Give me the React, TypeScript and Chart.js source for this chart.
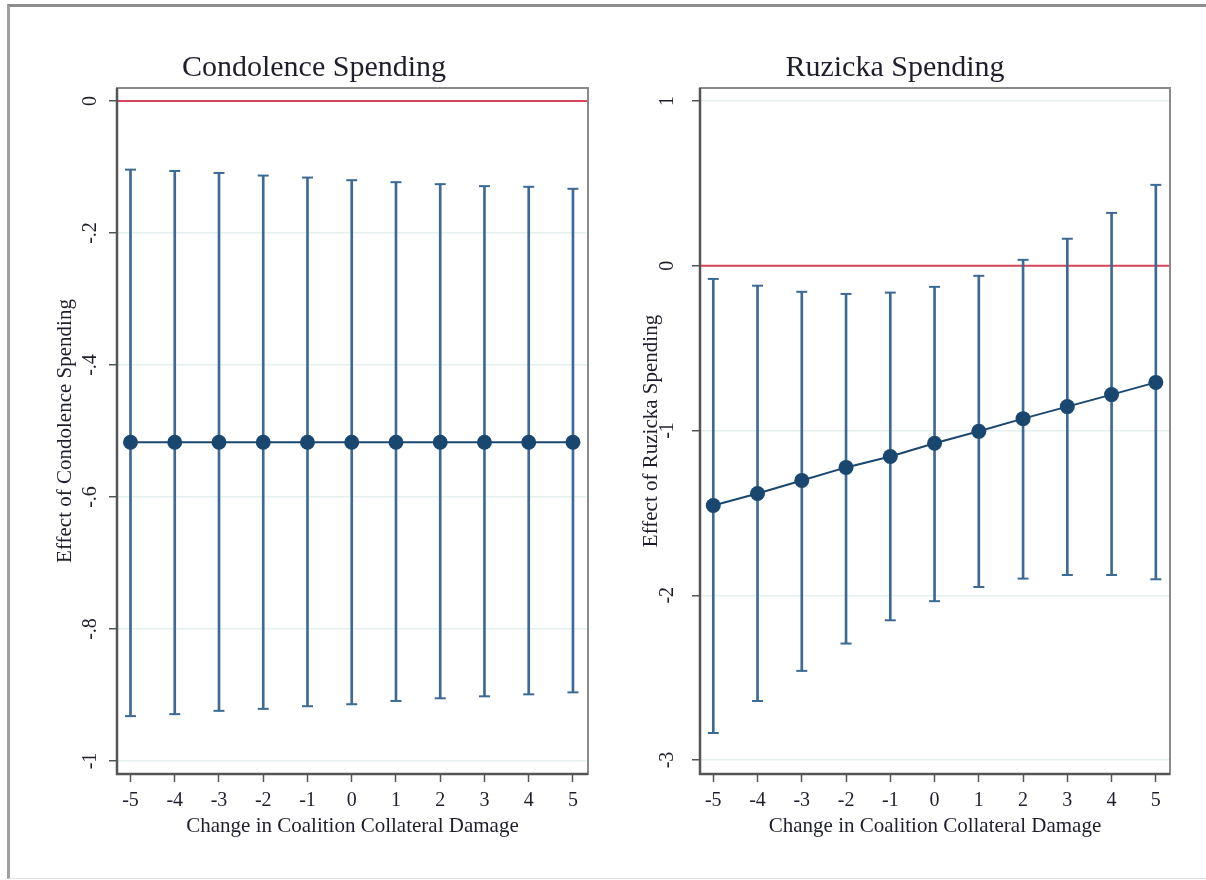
import React, { useEffect, useRef } from "react";
import { Chart, registerables } from "chart.js";

Chart.register(...registerables);

// ---------- data ----------
const xValues = [-5, -4, -3, -2, -1, 0, 1, 2, 3, 4, 5];
const xTicks = [-5, -4, -3, -2, -1, 0, 1, 2, 3, 4, 5];

const condolenceEffect = [-0.517, -0.517, -0.517, -0.517, -0.517, -0.517, -0.517, -0.517, -0.517, -0.517, -0.517];
const condolenceUpper = [-0.104, -0.106, -0.109, -0.113, -0.116, -0.12, -0.123, -0.126, -0.129, -0.13, -0.133];
const condolenceLower = [-0.932, -0.929, -0.924, -0.921, -0.917, -0.914, -0.909, -0.905, -0.902, -0.899, -0.896];
const condolenceYTicks = [0, -0.2, -0.4, -0.6, -0.8, -1];
const condolenceYLabels = ["0", "-.2", "-.4", "-.6", "-.8", "-1"];

const ruzickaEffect = [-1.455, -1.382, -1.303, -1.224, -1.158, -1.077, -1.005, -0.928, -0.855, -0.782, -0.708];
const ruzickaUpper = [-0.08, -0.121, -0.158, -0.171, -0.163, -0.128, -0.061, 0.036, 0.164, 0.321, 0.491];
const ruzickaLower = [-2.836, -2.642, -2.459, -2.293, -2.152, -2.036, -1.95, -1.899, -1.877, -1.877, -1.903];
const ruzickaYTicks = [1, 0, -1, -2, -3];
const ruzickaYLabels = ["1", "0", "-1", "-2", "-3"];

const referenceValue = 0;

// ---------- styles ----------
const SERIF = '"Liberation Serif", "DejaVu Serif", serif';
const NAVY = "#1a476f";
const CI = "#3d6a94";
const RED = "#d8455a";
const GRID = "#e4eff0";
const AXIS = "#555555";
const TEXT = "#1e1e2c";

const yLabelPlugin = {
  id: "yLabels",
  afterDraw(chart: any, _args: any, opts: any) {
    const s = chart.scales.y;
    const ctx = chart.ctx;
    ctx.save();
    ctx.font = `20px ${SERIF}`;
    ctx.fillStyle = TEXT;
    ctx.textAlign = "center";
    ctx.textBaseline = "middle";
    (opts.values as number[]).forEach((v, i) => {
      const y = s.getPixelForValue(v);
      ctx.save();
      ctx.translate(chart.chartArea.left - opts.offset, y);
      ctx.rotate(-Math.PI / 2);
      ctx.fillText(opts.labels[i], 0, 0);
      ctx.restore();
    });
    ctx.restore();
  },
};

const refLinePlugin = {
  id: "refLine",
  beforeDatasetsDraw(chart: any, _args: any, opts: any) {
    const { ctx, chartArea } = chart;
    const y = chart.scales.y.getPixelForValue(opts.value);
    ctx.save();
    ctx.strokeStyle = RED;
    ctx.lineWidth = 2.2;
    ctx.beginPath();
    ctx.moveTo(chartArea.left, y);
    ctx.lineTo(chartArea.right, y);
    ctx.stroke();
    ctx.restore();
  },
};

const boxPlugin = {
  id: "plotBox",
  afterDraw(chart: any) {
    const { ctx, chartArea } = chart;
    const { left, right, top, bottom } = chartArea;
    ctx.save();
    ctx.strokeStyle = "#8a8a8a";
    ctx.lineWidth = 2;
    ctx.strokeRect(left, top, right - left, bottom - top);
    ctx.strokeStyle = AXIS;
    ctx.lineWidth = 2.5;
    ctx.beginPath();
    ctx.moveTo(left, top);
    ctx.lineTo(left, bottom);
    ctx.lineTo(right, bottom);
    ctx.stroke();
    ctx.restore();
  },
};

type PanelProps = {
  title: string;
  yTitle: string;
  effect: number[];
  upper: number[];
  lower: number[];
  yTicks: number[];
  yLabels: string[];
  xMin: number;
  xMax: number;
  yMin: number;
  yMax: number;
  left: number;
  width: number;
  yAxisWidth: number;
  rightPad: number;
  yTitlePad: number;
  yLabelOffset: number;
};

function Panel(p: PanelProps) {
  const ref = useRef<HTMLCanvasElement | null>(null);
  useEffect(() => {
    if (!ref.current) return;
    const caps: { x: number; y: number }[] = [];
    xValues.forEach((x, i) => {
      caps.push({ x, y: p.upper[i] });
      caps.push({ x, y: p.lower[i] });
    });
    const chart = new Chart(ref.current, {
      type: "line",
      data: {
        datasets: [
          {
            type: "line",
            data: xValues.map((x, i) => ({ x, y: p.effect[i] })),
            borderColor: NAVY,
            backgroundColor: NAVY,
            borderWidth: 2,
            pointRadius: 7.5,
            pointBackgroundColor: NAVY,
            pointBorderWidth: 0,
            order: 0,
          } as any,
          {
            type: "scatter",
            data: caps,
            pointStyle: "line",
            pointRadius: 5.5,
            pointBorderWidth: 2,
            pointBorderColor: CI,
            borderColor: CI,
            showLine: false,
            order: 1,
          } as any,
          {
            type: "bar",
            data: xValues.map((x, i) => ({ x, y: [p.lower[i], p.upper[i]] })),
            backgroundColor: CI,
            borderWidth: 0,
            barThickness: 2,
            grouped: false,
            order: 2,
          } as any,
        ],
      },
      options: {
        responsive: false,
        animation: false,
        events: [],
        layout: { padding: { left: 0, right: p.rightPad, top: 0, bottom: 10 } },
        plugins: {
          legend: { display: false },
          tooltip: { enabled: false },
          title: {
            display: true,
            text: p.title,
            color: TEXT,
            font: { family: SERIF, size: 30, weight: "normal" },
            padding: { top: 40, bottom: 2 },
          },
          yLabels: { values: p.yTicks, labels: p.yLabels, offset: p.yLabelOffset },
          refLine: { value: referenceValue },
        } as any,
        scales: {
          x: {
            type: "linear",
            min: p.xMin,
            max: p.xMax,
            offset: false,
            afterBuildTicks: (s: any) => {
              s.ticks = xTicks.map((v) => ({ value: v }));
            },
            afterFit: (s: any) => {
              s.height = 75;
            },
            grid: {
              offset: false,
              drawOnChartArea: false,
              drawTicks: true,
              tickLength: 8,
              tickColor: AXIS,
              tickWidth: 1.5,
            },
            border: { display: false },
            ticks: {
              autoSkip: false,
              maxRotation: 0,
              padding: 7,
              color: TEXT,
              font: { family: SERIF, size: 20 },
              callback: (v: any) => String(v),
            },
            title: {
              display: true,
              text: "Change in Coalition Collateral Damage",
              color: TEXT,
              font: { family: SERIF, size: 21 },
              padding: { top: 0, bottom: 10 },
            },
          } as any,
          y: {
            type: "linear",
            min: p.yMin,
            max: p.yMax,
            afterBuildTicks: (s: any) => {
              s.ticks = p.yTicks.map((v) => ({ value: v }));
            },
            afterFit: (s: any) => {
              s.width = p.yAxisWidth;
            },
            grid: {
              offset: false,
              color: GRID,
              lineWidth: 1.5,
              drawTicks: true,
              tickLength: 8,
              tickColor: AXIS,
              tickWidth: 1.5,
            },
            border: { display: false },
            ticks: { display: false },
            title: {
              display: true,
              text: p.yTitle,
              color: TEXT,
              font: { family: SERIF, size: 21 },
              padding: { top: p.yTitlePad, bottom: 0 },
            },
          } as any,
        },
      },
      plugins: [yLabelPlugin, refLinePlugin, boxPlugin],
    });
    return () => chart.destroy();
  }, []);
  return (
    <canvas
      ref={ref}
      width={p.width}
      height={849}
      style={{ position: "absolute", left: p.left, top: 10, width: p.width, height: 849 }}
    />
  );
}

export default function App() {
  return (
    <div
      style={{
        position: "absolute",
        left: 0,
        top: 0,
        width: 1206,
        height: 880,
        overflow: "hidden",
        background: "#ffffff",
      }}
    >
      <div
        style={{
          position: "absolute",
          left: 7,
          top: 4,
          width: 1199,
          height: 875,
          boxSizing: "border-box",
          borderTop: "3px solid #8c8c8c",
          borderLeft: "3px solid #a0a0a0",
          borderBottom: "1px solid #e2e2e2",
        }}
      />
      <Panel
        title="Condolence Spending"
        yTitle="Effect of Condolence Spending"
        effect={condolenceEffect}
        upper={condolenceUpper}
        lower={condolenceLower}
        yTicks={condolenceYTicks}
        yLabels={condolenceYLabels}
        xMin={-5.305}
        xMax={5.34}
        yMin={-1.0197}
        yMax={0.0197}
        left={40}
        width={558}
        yAxisWidth={77}
        rightPad={10}
        yTitlePad={12.4}
        yLabelOffset={26}
      />
      <Panel
        title="Ruzicka Spending"
        yTitle="Effect of Ruzicka Spending"
        effect={ruzickaEffect}
        upper={ruzickaUpper}
        lower={ruzickaLower}
        yTicks={ruzickaYTicks}
        yLabels={ruzickaYLabels}
        xMin={-5.3}
        xMax={5.32}
        yMin={-3.085}
        yMax={1.079}
        left={620}
        width={566}
        yAxisWidth={80}
        rightPad={16}
        yTitlePad={18.4}
        yLabelOffset={32}
      />
    </div>
  );
}
